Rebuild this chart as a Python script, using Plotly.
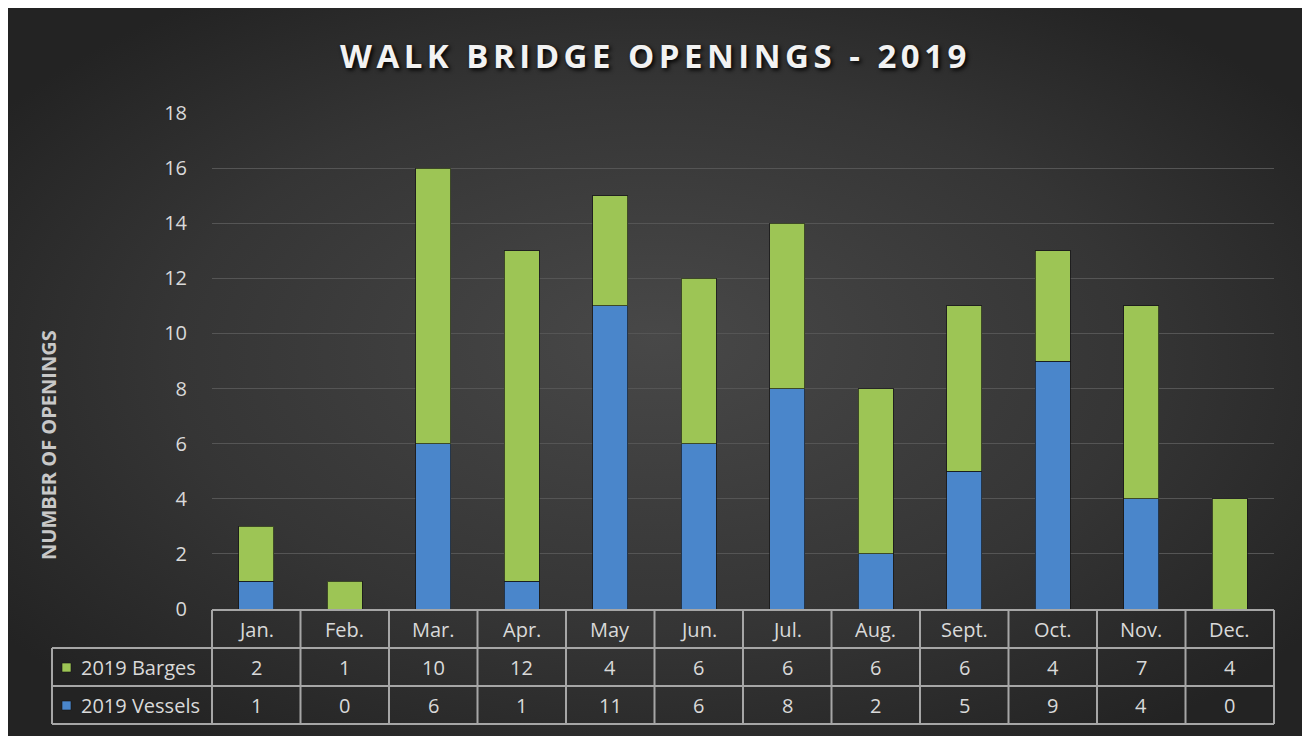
import base64
import plotly.graph_objects as go

# ---- data ----
months = ["Jan.", "Feb.", "Mar.", "Apr.", "May", "Jun.", "Jul.", "Aug.", "Sept.", "Oct.", "Nov.", "Dec."]
barges = [2, 1, 10, 12, 4, 6, 6, 6, 6, 4, 7, 4]
vessels = [1, 0, 6, 1, 11, 6, 8, 2, 5, 9, 4, 0]
y_ticks = [0, 2, 4, 6, 8, 10, 12, 14, 16, 18]
series_names = ["2019 Barges", "2019 Vessels"]
title_text = "WALK BRIDGE OPENINGS - 2019"
ytitle_text = "NUMBER OF OPENINGS"

OFF = 8  # page body margin
W, H = 1294, 729
L, R, T, B = 212 - OFF, 1274 - OFF, 113 - OFF, 609 - OFF  # plot area in figure pixels
PW, PH = R - L, B - T

def px(x):
    return (x - OFF - L) / PW

def py(y):
    return (B - (y - OFF)) / PH

GREEN = "#9DC555"
BLUE = "#4A86CB"
GRID = "#555555"
LINE = "#A6A6A6"
TXT = "#D9D9D9"
FONT = "Open Sans"

fig = go.Figure()
fig.add_trace(go.Bar(x=list(range(len(months))), y=vessels, name=series_names[1],
                     marker=dict(color=BLUE, line=dict(color="rgba(20,20,20,0.7)", width=1))))
fig.add_trace(go.Bar(x=list(range(len(months))), y=barges, name=series_names[0],
                     marker=dict(color=GREEN, line=dict(color="rgba(20,20,20,0.7)", width=1))))

# background radial gradient as svg image
svg = f'''<svg xmlns="http://www.w3.org/2000/svg" width="{W}" height="{H}" preserveAspectRatio="none" viewBox="0 0 {W} {H}">
<defs><radialGradient id="g" cx="50%" cy="50%" r="62%" fx="50%" fy="45%">
<stop offset="0" stop-color="#484848"/><stop offset="0.6" stop-color="#353535"/><stop offset="1" stop-color="#232323"/></radialGradient></defs>
<rect x="0" y="0" width="{W}" height="{H}" fill="url(#g)"/></svg>'''
src = "data:image/svg+xml;base64," + base64.b64encode(svg.encode()).decode()

images = [dict(source=src, xref="paper", yref="paper", x=-L / PW, y=1 + T / PH,
               sizex=W / PW, sizey=H / PH, sizing="stretch",
               xanchor="left", yanchor="top", layer="below")]

shapes = []
annotations = []

def hline(y, x0, x1):
    shapes.append(dict(type="line", xref="paper", yref="paper", x0=px(x0), x1=px(x1),
                       y0=py(y), y1=py(y), line=dict(color=LINE, width=2)))

def vline(x, y0, y1):
    shapes.append(dict(type="line", xref="paper", yref="paper", x0=px(x), x1=px(x),
                       y0=py(y0), y1=py(y1), line=dict(color=LINE, width=2)))

row_top, row1, row2, row3 = 610, 648, 686, 724
LEG_X = 52
hline(row_top, 212, 1274)
hline(row1, LEG_X, 1274)
hline(row2, LEG_X, 1274)
hline(row3, LEG_X, 1274)
vline(LEG_X, row1, row3)
n = len(months)
for k in range(n + 1):
    vline(212 + (1274 - 212) * k / n, row_top, row3)

TS = 20

def ann(x, y, text, xref="paper", xanchor="center", **kw):
    d = dict(x=x, xref=xref, y=y, yref="paper", text=text, showarrow=False,
             xanchor=xanchor, yanchor="middle")
    d.update(kw)
    annotations.append(d)

tfont = dict(family=FONT, size=TS, color=TXT)
# table text
for i, m in enumerate(months):
    ann(i, py((row_top + row1) / 2), m, xref="x", font=tfont)
    ann(i, py((row1 + row2) / 2), str(barges[i]), xref="x", font=tfont)
    ann(i, py((row2 + row3) / 2), str(vessels[i]), xref="x", font=tfont)

for name, col, ytop, ybot in [(series_names[0], GREEN, row1, row2), (series_names[1], BLUE, row2, row3)]:
    yc = (ytop + ybot) / 2
    shapes.append(dict(type="rect", xref="paper", yref="paper", x0=px(62), x1=px(71),
                       y0=py(yc - 4), y1=py(yc + 5), fillcolor=col,
                       line=dict(color="rgba(20,20,20,0.6)", width=1)))
    ann(px(79), py(yc), name, xanchor="left", font=tfont)

# title and axis title
ann(px(655), py(55), f'<span style="letter-spacing:4.5px"><b>{title_text}</b></span>',
    font=dict(family=FONT, size=33, color="#F2F2F2", shadow="2px 2px 4px #000000"))
ann(px(48), py(445), f"<b>{ytitle_text}</b>", textangle=-90,
    font=dict(family=FONT, size=20, color="#C8C8C8"))

fig.update_layout(
    width=W, height=H,
    margin=dict(l=L, r=W - R, t=T, b=H - B, autoexpand=False),
    paper_bgcolor="#2A2A2A", plot_bgcolor="rgba(0,0,0,0)",
    barmode="stack", bargap=0.6, showlegend=False,
    images=images, shapes=shapes, annotations=annotations,
    xaxis=dict(range=[-0.5, n - 0.5], showticklabels=False, showgrid=False, zeroline=False,
               fixedrange=True),
    yaxis=dict(range=[0, 18], tickvals=y_ticks, showgrid=True, gridcolor=GRID, gridwidth=1,
               zeroline=False, ticks="outside", ticklen=20, tickcolor="rgba(0,0,0,0)",
               tickfont=tfont, fixedrange=True),
)

fig.write_html(
    "out.html",
    post_script=("var d=document.getElementById('{plot_id}');"
                 "d.style.width='1294px';d.style.overflow='visible';"
                 "document.body.style.margin='8px 0 0 8px';"
                 "document.documentElement.style.overflow='hidden';"),
)
